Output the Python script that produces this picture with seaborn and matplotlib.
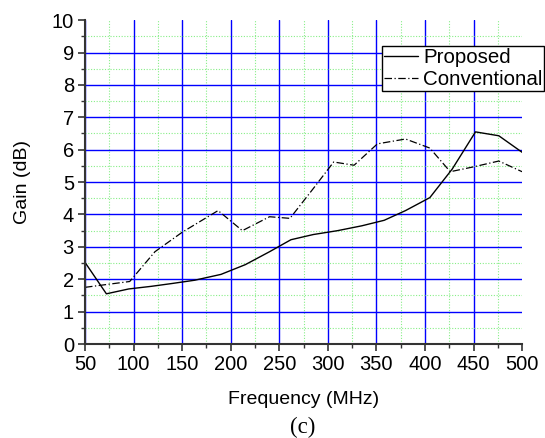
import numpy as np
import pandas as pd
import matplotlib
matplotlib.use("Agg")
import matplotlib.pyplot as plt
import seaborn as sns
from matplotlib.ticker import MultipleLocator

prop_freq = [50, 72, 95, 118, 140, 163, 190, 215, 240, 262, 285, 310, 335, 358, 380, 405, 428, 452, 476, 500]
prop_gain = [2.52, 1.55, 1.7, 1.78, 1.87, 1.97, 2.15, 2.45, 2.85, 3.22, 3.38, 3.5, 3.65, 3.82, 4.12, 4.52, 5.4, 6.55, 6.43, 5.92]
conv_freq = [50, 96, 122, 150, 187, 212, 240, 261, 285, 306, 327, 351, 380, 405, 426, 450, 476, 500]
conv_gain = [1.75, 1.93, 2.85, 3.45, 4.12, 3.5, 3.93, 3.88, 4.8, 5.62, 5.52, 6.18, 6.33, 6.05, 5.32, 5.47, 5.65, 5.32]

sns.set_theme(style="white")
plt.rcParams['font.family'] = ['Liberation Sans', 'DejaVu Sans']
plt.rcParams['text.color'] = 'black'
plt.rcParams['axes.labelcolor'] = 'black'
plt.rcParams['xtick.color'] = 'black'
plt.rcParams['ytick.color'] = 'black'

fig = plt.figure(figsize=(5.45, 4.38), dpi=100)
ax = fig.add_axes([0.156, 0.2146, 0.802, 0.7394])

df_p = pd.DataFrame({"Frequency": prop_freq, "Gain": prop_gain})
df_c = pd.DataFrame({"Frequency": conv_freq, "Gain": conv_gain})

sns.lineplot(data=df_p, x="Frequency", y="Gain", ax=ax, color="black", lw=1.0,
             label="Proposed", sort=False, zorder=5)
sns.lineplot(data=df_c, x="Frequency", y="Gain", ax=ax, color="black", lw=0.9,
             label="Conventional", sort=False, zorder=5)
ax.lines[1].set_dashes([6, 2, 1, 2])

ax.set_xlim(50, 500)
ax.set_ylim(0, 10)
ax.xaxis.set_major_locator(MultipleLocator(50))
ax.xaxis.set_minor_locator(MultipleLocator(25))
ax.yaxis.set_major_locator(MultipleLocator(1))
ax.yaxis.set_minor_locator(MultipleLocator(0.5))

ax.grid(True, which="major", color="#0000ff", lw=1.0, zorder=1)
ax.grid(True, which="minor", color="#88ee88", lw=0.8, ls=(0, (1, 1.5)), zorder=0)

for s in ["top", "right"]:
    ax.spines[s].set_visible(False)
for s in ["left", "bottom"]:
    ax.spines[s].set_color("#333333")
    ax.spines[s].set_linewidth(1.5)
    ax.spines[s].set_zorder(6)

ax.tick_params(which="major", direction="out", length=5, width=1.2, color="#333333",
               labelcolor="black", labelsize=14.5, left=True, bottom=True, pad=3)
ax.tick_params(which="minor", direction="out", length=3, width=1.0, color="#333333",
               left=True, bottom=True)

ax.set_xlabel("Frequency (MHz)", fontsize=14, labelpad=12, color="black")
ax.set_ylabel("Gain (dB)", fontsize=14, labelpad=15, color="black")

leg = ax.legend(loc="upper right", bbox_to_anchor=(0.999, 0.895), bbox_transform=fig.transFigure,
                fontsize=14.8, frameon=True, fancybox=False, borderpad=0.1, labelspacing=0.15,
                handlelength=1.65, handletextpad=0.25, borderaxespad=0)
leg.get_frame().set_edgecolor("black")
leg.get_frame().set_linewidth(1.0)
leg.get_frame().set_alpha(1)
leg.set_zorder(10)
for txt in leg.get_texts():
    txt.set_color("black")

fig.text(0.556, 0.025, "(c)", family="Liberation Serif", fontsize=16.5, ha="center", va="center",
         color="black")

fig.canvas.draw()
for t in ax.yaxis.get_major_ticks():
    if abs(t.get_loc() - 10) < 1e-6:
        t.gridline.set_visible(False)
for t in ax.xaxis.get_major_ticks():
    if abs(t.get_loc() - 500) < 1e-6:
        t.gridline.set_visible(False)

fig.savefig("out.png", dpi=100)
